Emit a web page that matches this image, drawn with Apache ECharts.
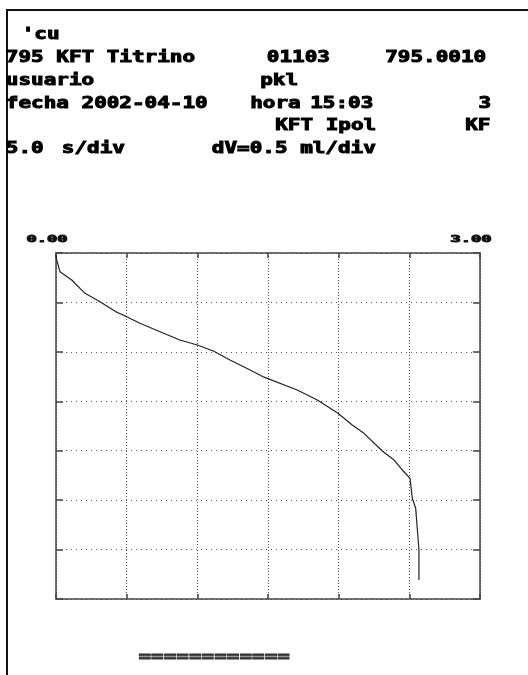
<!DOCTYPE html>
<html>
<head>
<meta charset="utf-8">
<script src="https://cdn.jsdelivr.net/npm/echarts@6/dist/echarts.min.js"></script>
<style>
html,body{margin:0;padding:0;background:#fff;}
#c{width:528px;height:675px;}
</style>
</head>
<body>
<div id="c"></div>
<script>
// Volume (ml) and time (s) of the titration curve
const volumeMl = [0.00, 0.005, 0.028, 0.111, 0.205, 0.311, 0.430, 0.500, 0.594, 0.736, 0.877, 1.000, 1.113, 1.231, 1.349, 1.472, 1.707, 1.849, 1.995, 2.096, 2.179, 2.309, 2.392, 2.450, 2.505, 2.521, 2.545, 2.556, 2.568, 2.568];
const timeS    = [0.20, 0.70, 1.89, 2.73, 4.08, 4.93, 6.00, 6.44, 7.11, 7.96, 8.80, 9.31, 9.91, 10.82, 11.66, 12.56, 13.86, 14.87, 16.21, 17.40, 18.24, 20.03, 20.94, 21.95, 22.79, 24.81, 25.82, 27.85, 30.04, 33.08];
const xRange = [0, 3];      // dV = 0.5 ml/div, 6 div
const yRange = [0, 35];     // 5.0 s/div, 7 div
const xTickLabels = ['0.00', '3.00'];
const headerLines = [
  [["'cu", 21.7]],
  [["795 KFT Titrino", 5.8], ["01103", 266.8], ["795.0010", 385.2]],
  [["usuario", 5.8], ["pkl", 260.2]],
  [["fecha 2002-04-10", 5.8], ["hora", 250.2], ["15:03", 310.2], ["3", 478.5]],
  [["KFT Ipol", 275.2], ["KF", 465.2]],
  [["5.0", 5.8], ["s/div", 61.8], ["dV=0.5 ml/div", 211.8]]
];
const footerText = '============';

const chart = echarts.init(document.getElementById('c'));
const FONT = '"DejaVu Sans Mono", "Liberation Mono", monospace';
const graphics = [];
// frame
graphics.push({type:'line', shape:{x1:7, y1:10, x2:528, y2:10}, style:{stroke:'#111', lineWidth:2}});
graphics.push({type:'line', shape:{x1:7, y1:9, x2:7, y2:675}, style:{stroke:'#111', lineWidth:2}});
const lineMid = [34.8, 58.2, 80.8, 103.8, 126.2, 149.2];
function txt(t, x, y, size, sx, fill, align, sw) {
  return {type:'text', x:x, y:y, scaleX:sx,
    style:{text:t, font:'bold ' + size + 'px ' + FONT, fill:fill, stroke:fill, lineWidth:sw,
      textAlign:align, textVerticalAlign:'middle', align:align, verticalAlign:'middle'}};
}
headerLines.forEach((pieces, i) => {
  pieces.forEach(p => graphics.push(txt(p[0], p[1], lineMid[i], 16, 1.31, '#000', 'left', 1.0)));
});
graphics.push(txt(xTickLabels[0], 47, 239.5, 9, 1.9, '#111', 'center', 0.9));
graphics.push(txt(xTickLabels[1], 471, 239.5, 9, 1.9, '#111', 'center', 0.9));
graphics.push(txt(footerText, 138.5, 657, 16, 1.31, '#333', 'left', 0.8));

const axisLineStyle = {color:'#444', width:1.5};
const tickStyle = {color:'#444', width:1.5};
const xBase = {type:'value', min:xRange[0], max:xRange[1], interval:0.5,
  axisLabel:{show:false}, axisLine:{show:true, onZero:false, lineStyle:axisLineStyle},
  axisTick:{show:true, inside:true, length:5, lineStyle:tickStyle}};
const yBase = {type:'value', min:yRange[0], max:yRange[1], interval:5, inverse:true,
  axisLabel:{show:false}, axisLine:{show:true, onZero:false, lineStyle:axisLineStyle},
  axisTick:{show:true, inside:true, length:7, lineStyle:tickStyle}};

chart.setOption({
  animation:false,
  backgroundColor:'#fff',
  grid:{left:56, top:253, width:424, height:346, show:false},
  xAxis:[
    Object.assign({}, xBase, {position:'bottom', splitLine:{show:true, lineStyle:{color:'#555', type:[1,2], width:1}}}),
    Object.assign({}, xBase, {position:'top', splitLine:{show:false}})
  ],
  yAxis:[
    Object.assign({}, yBase, {position:'left', splitLine:{show:true, lineStyle:{color:'#555', type:[1,4], width:1}}}),
    Object.assign({}, yBase, {position:'right', splitLine:{show:false}})
  ],
  series:[{
    type:'line', xAxisIndex:0, yAxisIndex:0, showSymbol:false, symbol:'none',
    lineStyle:{color:'#222', width:1.2},
    data: volumeMl.map((v, i) => [v, timeS[i]])
  }],
  graphic: graphics
});
</script>
</body>
</html>
